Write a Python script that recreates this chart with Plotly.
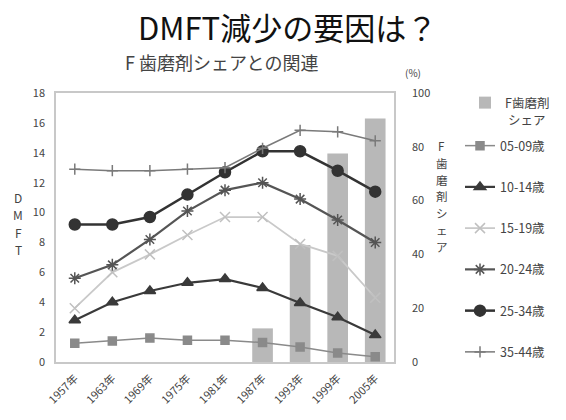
import plotly.graph_objects as go

# ---- data ----
years = ["1957年", "1963年", "1969年", "1975年", "1981年", "1987年", "1993年", "1999年", "2005年"]
fluoride_share = [None, None, None, None, None, 12.5, 43.5, 77.5, 90.5]  # %
dmft_05_09 = [1.25, 1.4, 1.6, 1.45, 1.45, 1.3, 1.0, 0.6, 0.35]
dmft_10_14 = [2.8, 4.0, 4.75, 5.3, 5.55, 4.95, 3.95, 3.0, 1.8]
dmft_15_19 = [3.6, 6.0, 7.2, 8.5, 9.7, 9.7, 7.9, 7.1, 4.3]
dmft_20_24 = [5.6, 6.5, 8.2, 10.1, 11.5, 12.0, 10.9, 9.5, 8.0]
dmft_25_34 = [9.2, 9.2, 9.7, 11.2, 12.7, 14.1, 14.1, 12.8, 11.4]
dmft_35_44 = [12.9, 12.8, 12.8, 12.9, 13.0, 14.3, 15.5, 15.4, 14.8]

left_title_chars = ["D", "M", "F", "T"]
right_title_chars = ["F", "歯", "磨", "剤", "シ", "ェ", "ア"]

FONT = "Noto Sans CJK JP"
W, H = 566, 420
L, R, T, B = 56, 171, 93, 58
PW, PH = W - L - R, H - T - B


def px_x(p):
    return (p - L) / PW


def px_y(p):
    return (H - B - p) / PH


fig = go.Figure()

# share of fluoride toothpaste (bars, right axis, drawn underneath)
fig.add_trace(go.Bar(
    x=years, y=fluoride_share, name="F歯磨剤",
    marker=dict(color="#b8b8b8", line=dict(width=0)),
    width=0.55, yaxis="y", legend="legend",
))

series = [
    ("05-09歳", dmft_05_09, "#8a8a8a", 1.5, "square", 8, "#8a8a8a"),
    ("10-14歳", dmft_10_14, "#3a3a3a", 2.2, "triangle-up", 10, "#3a3a3a"),
    ("15-19歳", dmft_15_19, "#c9c9c9", 1.8, "x-thin-open", 10, "#c0c0c0"),
    ("20-24歳", dmft_20_24, "#555555", 2.2, "asterisk-open", 10, "#555555"),
    ("25-34歳", dmft_25_34, "#333333", 2.5, "circle", 11, "#333333"),
    ("35-44歳", dmft_35_44, "#7a7a7a", 1.5, "cross-thin-open", 8, "#7a7a7a"),
]
for name, vals, col, lw, sym, ms, mcol in series:
    fig.add_trace(go.Scatter(
        x=years, y=vals, name=name, mode="lines+markers",
        line=dict(color=col, width=lw),
        marker=dict(symbol=sym, size=ms, color=mcol,
                    line=dict(color=mcol, width=1.5)),
        yaxis="y2", legend="legend2", legendgroup=name,
    ))

axis_line = "#c8c8c8"
tick_font = dict(family=FONT, size=11, color="#444444")
legend_font = dict(family=FONT, size=12.5, color="#444444")

fig.update_layout(
    width=W, height=H, autosize=False,
    margin=dict(l=L, r=R, t=T, b=B, pad=0),
    paper_bgcolor="white", plot_bgcolor="white",
    font=dict(family=FONT, color="#333333"),
    xaxis=dict(
        type="category", range=[-0.5, 8.5], tickangle=-45,
        tickfont=dict(family=FONT, size=11, color="#444444"),
        showgrid=False, showline=True, mirror=True,
        linecolor=axis_line, linewidth=1.5, ticks="", zeroline=False,
        ticklabelstandoff=4,
    ),
    yaxis=dict(
        side="right", range=[0, 100], dtick=20, tickfont=tick_font,
        showgrid=False, showline=True, mirror=True, linecolor=axis_line,
        linewidth=1.5, ticks="", zeroline=False, ticklabelstandoff=14,
    ),
    yaxis2=dict(
        overlaying="y", side="left", range=[0, 18], dtick=2,
        tickfont=tick_font, showgrid=False, showline=False, ticks="",
        zeroline=False, ticklabelstandoff=10,
    ),
    legend=dict(
        x=px_x(465), y=px_y(88), xanchor="left", yanchor="top",
        font=legend_font, bgcolor="rgba(0,0,0,0)", valign="top",
    ),
    legend2=dict(
        x=px_x(460), y=px_y(131), xanchor="left", yanchor="top",
        font=legend_font, bgcolor="rgba(0,0,0,0)",
        tracegroupgap=22, traceorder="grouped",
    ),
    showlegend=True,
)

annotations = [
    dict(text="DMFT減少の要因は？", x=px_x(288), y=px_y(26),
         font=dict(family=FONT, size=31, color="#111111")),
    dict(text="F 歯磨剤シェアとの関連", x=px_x(222), y=px_y(62),
         font=dict(family=FONT, size=18, color="#444444")),
    dict(text="(%)", x=px_x(414), y=px_y(72),
         font=dict(family=FONT, size=10, color="#444444")),
    # second line of the bar legend label
    dict(text="シェア", x=px_x(507), y=px_y(119), xanchor="left",
         font=legend_font),
]
# vertically stacked axis titles, one character per line
for i, ch in enumerate(left_title_chars):
    annotations.append(dict(text=ch, x=px_x(18), y=px_y(197 + i * 17.5),
                            font=dict(family=FONT, size=12, color="#444444")))
for i, ch in enumerate(right_title_chars):
    annotations.append(dict(text=ch, x=px_x(443), y=px_y(146 + i * 16.8),
                            font=dict(family=FONT, size=11.5, color="#444444")))
for a in annotations:
    a.setdefault("xanchor", "center")
    a.update(xref="paper", yref="paper", showarrow=False, yanchor="middle")
fig.update_layout(annotations=annotations)

fig.write_html("out.html")
